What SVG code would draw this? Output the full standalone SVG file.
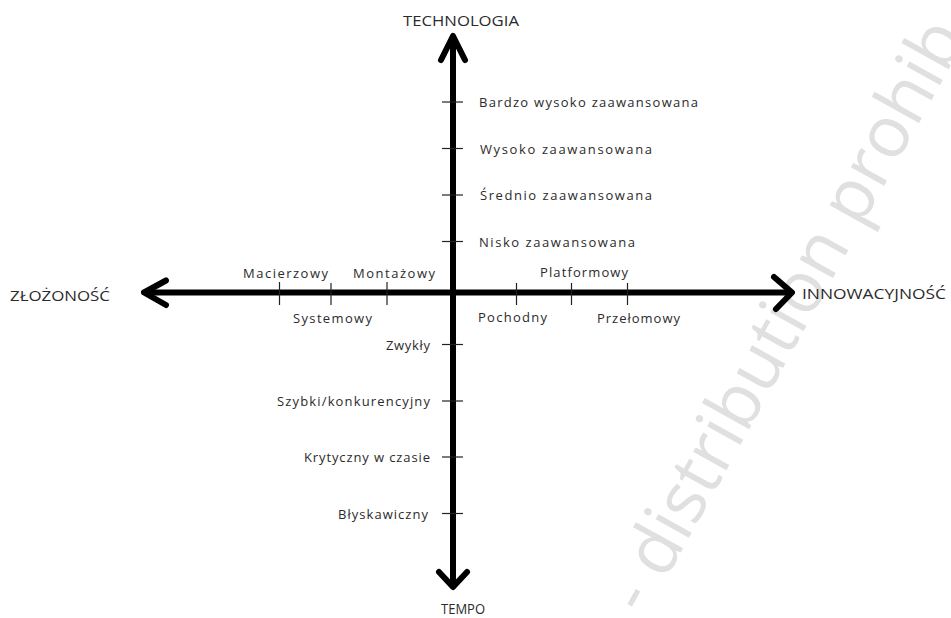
<svg xmlns="http://www.w3.org/2000/svg" width="951" height="618" viewBox="0 0 951 618">
<style>
.axis{stroke:#000;stroke-width:6;fill:none;stroke-linecap:round;stroke-linejoin:round}
.tick{stroke:#222;stroke-width:1.2}
.lbl{font-family:"Open Sans","Liberation Sans",sans-serif;font-size:13px;fill:#2b2b2b}
.ttl{font-family:"Open Sans","Liberation Sans",sans-serif;font-size:14px;fill:#2b2b2b}
.wm{font-family:"Open Sans","Liberation Sans",sans-serif;font-size:71px;fill:#e0e0e0}
</style>
<rect width="951" height="618" fill="#fff"/>
<g id="watermark"><text class="wm" transform="translate(645,617) rotate(-61)">- distribution prohib</text></g>
<g id="connectors">
<line class="axis" x1="453" y1="38" x2="453" y2="586"/>
<line class="axis" x1="146" y1="292.5" x2="790" y2="292.5"/>
<polyline class="axis" points="441,60 453,36 465,60"/>
<polyline class="axis" points="439,572 453,587 467,572"/>
<polyline class="axis" points="166,280.5 144,292.5 166,305"/>
<polyline class="axis" points="774,277 792,292.5 776,309"/>
</g>
<g id="ticks">
<line class="tick" x1="442" y1="102" x2="463" y2="102"/>
<line class="tick" x1="442" y1="148.5" x2="463" y2="148.5"/>
<line class="tick" x1="442" y1="195" x2="463" y2="195"/>
<line class="tick" x1="442" y1="241.5" x2="463" y2="241.5"/>
<line class="tick" x1="442" y1="344.5" x2="463" y2="344.5"/>
<line class="tick" x1="442" y1="401" x2="463" y2="401"/>
<line class="tick" x1="442" y1="457" x2="463" y2="457"/>
<line class="tick" x1="442" y1="513.5" x2="463" y2="513.5"/>
<line class="tick" x1="279.5" y1="282" x2="279.5" y2="305"/>
<line class="tick" x1="331" y1="283" x2="331" y2="305"/>
<line class="tick" x1="387" y1="282" x2="387" y2="305"/>
<line class="tick" x1="516.5" y1="283" x2="516.5" y2="305"/>
<line class="tick" x1="571.5" y1="283" x2="571.5" y2="305"/>
<line class="tick" x1="627.5" y1="283" x2="627.5" y2="305"/>
</g>
<g id="axis-technologia"><text class="ttl" x="403" y="26" textLength="116" lengthAdjust="spacingAndGlyphs">TECHNOLOGIA</text></g>
<g id="axis-tempo"><text class="ttl" x="441" y="613.5" style="font-size:15px" textLength="44" lengthAdjust="spacingAndGlyphs">TEMPO</text></g>
<g id="axis-zlozonosc"><text class="ttl" x="10" y="301" textLength="100" lengthAdjust="spacingAndGlyphs">ZŁOŻONOŚĆ</text></g>
<g id="axis-innowacyjnosc"><text class="ttl" x="802" y="299" textLength="144" lengthAdjust="spacingAndGlyphs">INNOWACYJNOŚĆ</text></g>
<g id="tech-1"><text class="lbl" x="479" y="107" textLength="219" lengthAdjust="spacing">Bardzo wysoko zaawansowana</text></g>
<g id="tech-2"><text class="lbl" x="480" y="153.5" textLength="172" lengthAdjust="spacing">Wysoko zaawansowana</text></g>
<g id="tech-3"><text class="lbl" x="480" y="200" textLength="172" lengthAdjust="spacing">Średnio zaawansowana</text></g>
<g id="tech-4"><text class="lbl" x="479" y="246.5" textLength="156" lengthAdjust="spacing">Nisko zaawansowana</text></g>
<g id="tempo-1"><text class="lbl" x="430" y="349.5" text-anchor="end" textLength="44" lengthAdjust="spacing">Zwykły</text></g>
<g id="tempo-2"><text class="lbl" x="430" y="406" text-anchor="end" textLength="153" lengthAdjust="spacing">Szybki/konkurencyjny</text></g>
<g id="tempo-3"><text class="lbl" x="430" y="462" text-anchor="end" textLength="126" lengthAdjust="spacing">Krytyczny w czasie</text></g>
<g id="tempo-4"><text class="lbl" x="428" y="518.5" text-anchor="end" textLength="90" lengthAdjust="spacing">Błyskawiczny</text></g>
<g id="zl-macierzowy"><text class="lbl" x="243" y="278" textLength="85" lengthAdjust="spacing">Macierzowy</text></g>
<g id="zl-montazowy"><text class="lbl" x="353" y="278" textLength="82" lengthAdjust="spacing">Montażowy</text></g>
<g id="zl-systemowy"><text class="lbl" x="293" y="323" textLength="79" lengthAdjust="spacing">Systemowy</text></g>
<g id="in-pochodny"><text class="lbl" x="478" y="322" textLength="69" lengthAdjust="spacing">Pochodny</text></g>
<g id="in-platformowy"><text class="lbl" x="540" y="277" textLength="88" lengthAdjust="spacing">Platformowy</text></g>
<g id="in-przelomowy"><text class="lbl" x="597" y="323" textLength="83" lengthAdjust="spacing">Przełomowy</text></g>
</svg>
